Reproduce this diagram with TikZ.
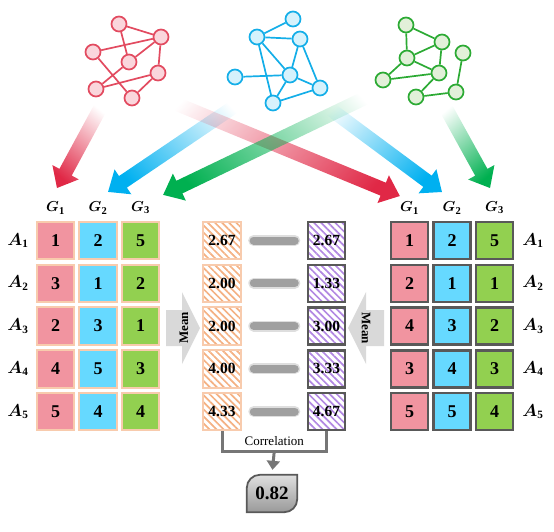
\documentclass[tikz,border=0pt]{standalone}
\usepackage{fontspec}
\setmainfont{Liberation Serif}
\usepackage{amsmath,bm}
\usetikzlibrary{calc,fadings,patterns.meta,arrows.meta}
\definecolor{cellred}{RGB}{241,148,160}
\definecolor{cellblue}{RGB}{102,217,255}
\definecolor{cellgreen}{RGB}{146,208,80}
\definecolor{peach}{RGB}{248,203,173}
\definecolor{darkb}{RGB}{89,89,89}
\definecolor{hatchor}{RGB}{244,177,131}
\definecolor{hatchpu}{RGB}{178,136,226}
\definecolor{bargray}{RGB}{160,160,160}
\definecolor{meangray}{RGB}{217,217,217}
\definecolor{brkgray}{RGB}{118,118,118}
\definecolor{gRs}{RGB}{226,75,96}
\definecolor{gRf}{RGB}{250,214,220}
\definecolor{gBs}{RGB}{20,174,232}
\definecolor{gBf}{RGB}{214,242,252}
\definecolor{gGs}{RGB}{44,170,52}
\definecolor{gGf}{RGB}{226,240,217}
\definecolor{aR}{RGB}{224,40,70}
\definecolor{aB}{RGB}{0,176,240}
\definecolor{aG}{RGB}{0,176,80}
\tikzfading[name=arrowfade, left color=transparent!100, right color=transparent!0]
\newcommand\gradarrow[4]{%
  \coordinate (#1b) at ($(#2)!18pt!(#1)$);
  \fill[#3, path fading=arrowfade, fading angle=#4]
    ($(#1)!7pt!90:(#2)$) -- ($(#1b)!7pt!90:(#2)$) -- ($(#1b)!15pt!90:(#2)$) -- (#2)
    -- ($(#1b)!15pt!-90:(#2)$) -- ($(#1b)!7pt!-90:(#2)$) -- ($(#1)!7pt!-90:(#2)$) -- cycle;}
\begin{document}
\begin{tikzpicture}[x=1pt,y=-1pt,
  gnode/.style={circle, draw, line width=1.7pt, minimum size=15pt, inner sep=0pt},
  gedge/.style={line width=1.7pt},
  cellbase/.style={minimum size=37.5pt, inner sep=0pt, line width=2pt,
     font=\bfseries\fontsize{18}{18}\selectfont},
  lcell/.style={cellbase, draw=peach},
  rcell/.style={cellbase, draw=darkb, line width=2.5pt, minimum size=37pt},
  ocell/.style={cellbase, draw=peach, font=\bfseries\fontsize{15.5}{16}\selectfont,
     pattern={Lines[angle=-45,distance=5pt,line width=1.7pt]}, pattern color=hatchor},
  pcell/.style={cellbase, draw=darkb, line width=2.5pt, minimum size=37pt,
     font=\bfseries\fontsize{15.5}{16}\selectfont,
     pattern={Lines[angle=-45,distance=5pt,line width=1.7pt]}, pattern color=hatchpu},
  glab/.style={font=\fontsize{15}{15}\selectfont, inner sep=0pt},
  alab/.style={font=\fontsize{16}{16}\selectfont, inner sep=0pt},
  bar/.style={line width=8pt, line cap=round, bargray},
  barblur/.style={line width=11pt, line cap=round, bargray!35},
  brk/.style={line width=3pt, brkgray},
  meanstyle/.style={font=\bfseries\fontsize{13}{13}\selectfont, inner sep=0pt}
]
\useasboundingbox (0,0) rectangle (554,531);

% ---------- gradient arrows ----------
\coordinate (t1) at (103,103); \coordinate (h1) at (57,188);
\coordinate (t2) at (247,98);  \coordinate (h2) at (108,192);
\coordinate (t3) at (386,88);  \coordinate (h3) at (163,195);
\coordinate (t4) at (155,95);  \coordinate (h4) at (400,196);
\coordinate (t5) at (318,100); \coordinate (h5) at (442,192);
\coordinate (t6) at (443,103); \coordinate (h6) at (490,188);
\gradarrow{t2}{h2}{aB}{-145.9}
\gradarrow{t4}{h4}{aR}{-22.4}
\gradarrow{t3}{h3}{aG}{-154.4}
\gradarrow{t5}{h5}{aB}{-36.6}
\gradarrow{t1}{h1}{aR}{-118.4}
\gradarrow{t6}{h6}{aG}{-61.1}

% ---------- red graph ----------
\begin{scope}[every node/.style={gnode, draw=gRs, fill=gRf}]
\node (ra) at (119,24) {}; \node (rb) at (161,37) {}; \node (rc) at (93,52) {};
\node (rd) at (129,62) {}; \node (re) at (158,73) {}; \node (rf) at (96,89) {};
\node (rg) at (132,98) {};
\end{scope}
\draw[gedge, gRs] (ra)--(rb) (ra)--(rd) (rc)--(rb) (rd)--(rb) (rb)--(re)
  (rc)--(rg) (rd)--(rf) (rf)--(re) (re)--(rg);

% ---------- blue graph ----------
\begin{scope}[every node/.style={gnode, draw=gBs, fill=gBf}]
\node (bp) at (293,19) {}; \node (bq) at (257,37) {}; \node (br) at (300,39) {};
\node (bs) at (235,77) {}; \node (bt) at (290,75) {}; \node (bu) at (320,88) {};
\node (bv) at (273,103) {};
\end{scope}
\draw[gedge, gBs] (bp)--(bq) (bq)--(br) (bq)--(bt) (bq)--(bv) (br)--(bt) (br)--(bu)
  (bs)--(bt) (bt)--(bu) (bt)--(bv) (bv)--(bu);

% ---------- green graph ----------
\begin{scope}[every node/.style={gnode, draw=gGs, fill=gGf}]
\node (ga) at (406,25) {}; \node (gb) at (442,42) {}; \node (gc) at (407,58) {};
\node (gd) at (463,53) {}; \node (ge) at (439,73) {}; \node (gf) at (383,80) {};
\node (gg) at (416,97) {}; \node (gh) at (456,92) {};
\end{scope}
\draw[gedge, gGs] (ga)--(gb) (ga)--(gc) (gc)--(gb) (gb)--(ge) (gc)--(ge) (gc)--(gf)
  (gf)--(ge) (ge)--(gg) (gg)--(gh) (gh)--(gd);

% ---------- headers ----------
\foreach \i/\x in {1/55.5,2/98,3/140.5}
  \node[glab] (LG\i) at (\x,208) {$\bm{G}_{\mathbf{\i}}$};
\foreach \i/\x in {1/409.5,2/452,3/494.5}
  \node[glab] (RG\i) at (\x,208) {$\bm{G}_{\mathbf{\i}}$};

% ---------- tables ----------
\foreach \r/\a/\b/\c in {1/1/2/5,2/3/1/2,3/2/3/1,4/4/5/3,5/5/4/4}{
  \pgfmathsetmacro\yy{240.5+42.75*(\r-1)}
  \node[lcell, fill=cellred]   (L\r a) at (55.5,\yy) {\a};
  \node[lcell, fill=cellblue]  (L\r b) at (98,\yy) {\b};
  \node[lcell, fill=cellgreen] (L\r c) at (140.5,\yy) {\c};
  \node[alab] (LA\r) at (18,\yy) {$\bm{A}_{\mathbf{\r}}$};
}
\foreach \r/\a/\b/\c in {1/1/2/5,2/2/1/1,3/4/3/2,4/3/4/3,5/5/5/4}{
  \pgfmathsetmacro\yy{240.5+42.75*(\r-1)}
  \node[rcell, fill=cellred]   (R\r a) at (409.5,\yy) {\a};
  \node[rcell, fill=cellblue]  (R\r b) at (452,\yy) {\b};
  \node[rcell, fill=cellgreen] (R\r c) at (494.5,\yy) {\c};
  \node[alab] (RA\r) at (533,\yy) {$\bm{A}_{\mathbf{\r}}$};
}
\foreach \r/\o/\p in {1/2.67/2.67,2/2.00/1.33,3/2.00/3.00,4/4.00/3.33,5/4.33/4.67}{
  \pgfmathsetmacro\yy{240.5+42.75*(\r-1)}
  \node[ocell] (O\r) at (222,\yy) {\o};
  \node[pcell] (P\r) at (326.5,\yy) {\p};
  \draw[barblur] ($(O\r.east)+(12,0)$) -- ($(P\r.west)+(-12,0)$);
  \draw[bar] ($(O\r.east)+(12,0)$) -- ($(P\r.west)+(-12,0)$);
}

% ---------- mean arrows ----------
\fill[meangray] (166,310) -- (182,310) -- (182,292) -- (200,328) -- (182,364)
  -- (182,346) -- (166,346) -- cycle;
\node[meanstyle, rotate=90] (meanL) at (184,328) {Mean};
\fill[meangray] (384,310) -- (366,310) -- (366,292) -- (348,328) -- (366,364)
  -- (366,346) -- (384,346) -- cycle;
\node[meanstyle, rotate=-90] (meanR) at (366,328) {Mean};

% ---------- correlation ----------
\draw[brk] (O5.south) -- ++(0,20) coordinate (bl) -| (P5.south);
\coordinate (mid) at ($(O5.south)!0.5!(P5.south)+(0,20)$);
\node[font=\fontsize{13}{13}\selectfont, inner sep=0pt] (corr) at ($(mid)+(0,-10)$) {Correlation};
\node[minimum width=50pt, minimum height=37pt, inner sep=0pt] (res) at (272,493.5) {};
\shade[top color=gray!25, bottom color=gray!80]
  (res.south west) [rounded corners=13pt]-- (res.north west) [sharp corners]-- (res.north east)
  [rounded corners=13pt]-- (res.south east) [sharp corners]-- cycle;
\draw[line width=1.8pt, darkb]
  (res.south west) [rounded corners=13pt]-- (res.north west) [sharp corners]-- (res.north east)
  [rounded corners=13pt]-- (res.south east) [sharp corners]-- cycle;
\node[font=\bfseries\fontsize{19}{19}\selectfont, inner sep=0pt] (restxt) at (res.center) {0.82};
\draw[brk, -{Triangle[width=13pt,length=9pt]}, shorten >=5pt] (mid) -- (res.north);
\end{tikzpicture}
\end{document}
